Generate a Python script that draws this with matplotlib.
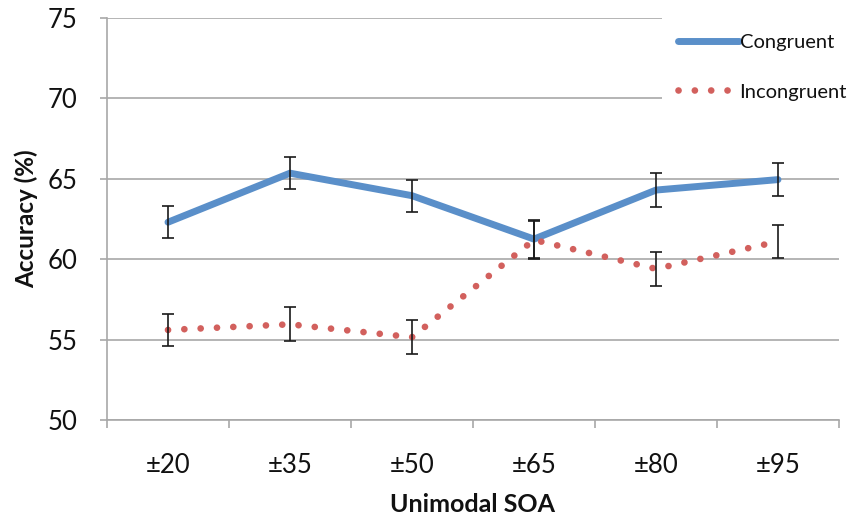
import matplotlib
matplotlib.use("Agg")
import matplotlib.pyplot as plt
from matplotlib.lines import Line2D

categories = ["±20", "±35", "±50", "±65", "±80", "±95"]
congruent = [62.3, 65.35, 63.95, 61.25, 64.3, 64.95]
congruent_err = [1.0, 1.0, 1.0, 1.2, 1.05, 1.05]
incongruent = [55.6, 55.95, 55.15, 61.2, 59.4, 61.1]
incongruent_err = [1.0, 1.05, 1.05, 1.2, 1.05, 1.05]
yticks = [50, 55, 60, 65, 70, 75]

FONT = ["Lato", "DejaVu Sans"]
plt.rcParams["font.family"] = FONT

blue = "#5A8FC9"
red = "#D2605D"
grid_c = "#A8A8A8"
text_c = "#111111"

fig = plt.figure(figsize=(8.56, 5.18), dpi=100)
ax = fig.add_axes([107/856, 1-420/518, (839-107)/856, (420-18)/518])

x = list(range(len(categories)))

ax.set_xlim(-0.5, len(categories)-0.5)
ax.set_ylim(50, 75)
ax.set_yticks(yticks)
ax.set_yticklabels([str(v) for v in yticks])
ax.set_xticks(x)
ax.set_xticklabels(categories)
ax.set_xticks([i - 0.5 for i in range(len(categories)+1)], minor=True)

ax.yaxis.grid(True, color=grid_c, lw=1.2)
ax.set_axisbelow(True)
for s in ["top", "right"]:
    ax.spines[s].set_visible(False)
for s in ["left", "bottom"]:
    ax.spines[s].set_color(grid_c)
    ax.spines[s].set_linewidth(1.2)

ax.tick_params(axis="y", length=5, width=1.2, color=grid_c, pad=16, labelsize=18.5,
               labelcolor=text_c)
ax.tick_params(axis="x", which="major", length=0, pad=24, labelsize=18.5,
               labelcolor=text_c)
ax.tick_params(axis="x", which="minor", length=6, width=1.2, color=grid_c)

dot_lw = 4.8
dot_style = (0, (0.01, 2.44))
l1, = ax.plot(x, congruent, color=blue, lw=5, solid_capstyle="round",
              solid_joinstyle="round", zorder=3)
l2, = ax.plot(x, incongruent, color=red, lw=dot_lw, linestyle=dot_style,
              dash_capstyle="round", zorder=3)
ax.errorbar(x, congruent, yerr=congruent_err, fmt="none", ecolor="#1a1a1a",
            elinewidth=1.2, capsize=4.5, capthick=1.2, zorder=4)
ax.errorbar(x, incongruent, yerr=incongruent_err, fmt="none", ecolor="#1a1a1a",
            elinewidth=1.2, capsize=4.5, capthick=1.2, zorder=4)

ax.set_xlabel("Unimodal SOA", fontsize=18, fontweight="bold", va="center", color=text_c)
ax.xaxis.set_label_coords(0.5, (420-505)/402)
ax.set_ylabel("Accuracy (%)", fontsize=17.5, fontweight="bold", va="center", color=text_c)
ax.yaxis.set_label_coords((26-107)/732, 0.5)

h1 = Line2D([], [], color=blue, lw=5, solid_capstyle="round")
h2 = Line2D([], [], color=red, lw=dot_lw, linestyle=dot_style, dash_capstyle="round")
leg = ax.legend([h1, h2], ["Congruent", "Incongruent"], loc="upper left",
                bbox_to_anchor=(662/856, 1-18/518), bbox_transform=fig.transFigure,
                fontsize=14.5, handlelength=3.0, handletextpad=0.05, labelspacing=1.6,
                borderpad=0.8, borderaxespad=0, frameon=True, fancybox=False)
leg.get_frame().set_facecolor("white")
leg.get_frame().set_edgecolor("none")
leg.get_frame().set_alpha(1)
leg.set_zorder(5)
for t in leg.get_texts():
    t.set_color(text_c)

fig.savefig("out.png", dpi=100)
